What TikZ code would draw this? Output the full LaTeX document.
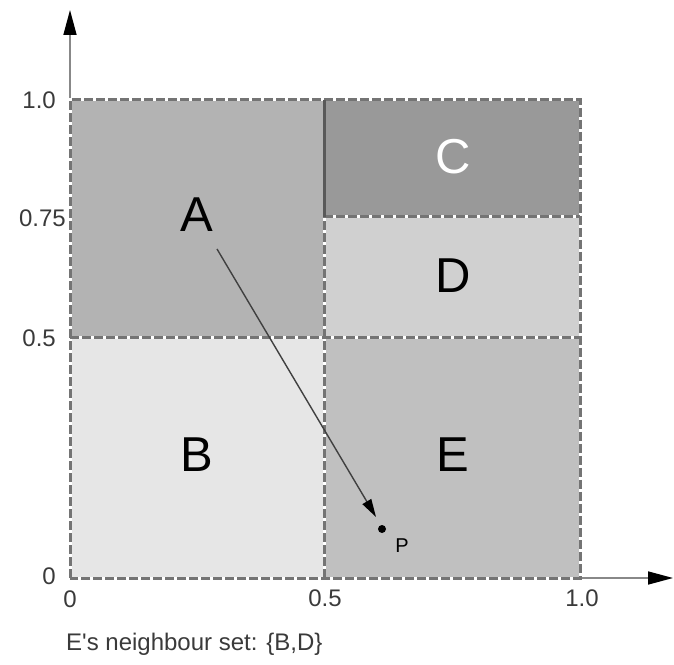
\documentclass[tikz,border=0pt]{standalone}
\usepackage{fontspec}
\setmainfont{Liberation Sans}
\usetikzlibrary{arrows.meta}
\definecolor{colA}{HTML}{B3B3B3}
\definecolor{colB}{HTML}{E6E6E6}
\definecolor{colC}{HTML}{999999}
\definecolor{colD}{HTML}{D0D0D0}
\definecolor{colE}{HTML}{C0C0C0}
\definecolor{bordergray}{HTML}{747474}
\definecolor{axisgray}{HTML}{888888}
\definecolor{ticktext}{HTML}{3A3A3A}
\tikzset{
  regionlabel/.style={font=\fontsize{49}{49}\selectfont, inner sep=0pt},
  ticklabel/.style={font=\fontsize{24}{24}\selectfont, text=ticktext, inner sep=0pt},
  borderunder/.style={draw=white, line width=3pt},
  borderline/.style={draw=bordergray, line width=3pt, dash pattern=on 9pt off 3pt},
  axisline/.style={draw=axisgray, line width=1.6pt, -{Triangle[length=25pt,width=13pt,color=black]}},
}
\begin{document}
\begin{tikzpicture}[x=1pt,y=1pt]
\useasboundingbox (0,0) rectangle (674,664);
% key coordinates
\coordinate (O) at (70,86);
\coordinate (xh) at (324,86);
\coordinate (x1) at (580,86);
\coordinate (y1) at (70,564);
\coordinate (yh) at (70,326);
\coordinate (mid) at (324,326);
\coordinate (cd) at (324,447);
\coordinate (cdr) at (580,447);
\coordinate (midr) at (580,326);
\coordinate (top) at (324,564);
\coordinate (tr) at (580,564);
% regions
\fill[colA] (yh) rectangle (top);
\fill[colB] (O) rectangle (mid);
\fill[colC] (cd) rectangle (tr);
\fill[colD] (mid) rectangle (cdr);
\fill[colE] (xh) rectangle (midr);
% axes
\coordinate (ytip) at (70,654);
\coordinate (xtip) at (673,86);
\draw[axisline] (O) -- (ytip);
\draw[axisline] (O) -- (xtip);
% borders
\foreach \s in {borderunder,borderline}{
  \draw[\s] (O) rectangle (tr);
  \draw[\s] (yh) -- (midr);
  \draw[\s] (xh) -- (cd);
  \draw[\s] (cd) -- (cdr);
}
\draw[draw=black!65, line width=3pt] (cd) -- (top);
% region labels
\node[regionlabel] (A) at (197,449) {A};
\node[regionlabel] (B) at (197,209) {B};
\node[regionlabel, text=white] (C) at (453,507) {C};
\node[regionlabel] (D) at (453,388) {D};
\node[regionlabel] (E) at (453,209) {E};
% point P and arrow
\coordinate (Pdot) at (382,135);
\fill[black] (Pdot) circle (4pt);
\node[font=\fontsize{20}{20}\selectfont, inner sep=0pt] (Plabel) at (402,118) {P};
\coordinate (astart) at (217,415);
\coordinate (aend) at (376,147);
\draw[draw=black!75, line width=1.4pt, -{Triangle[length=18pt,width=10pt,color=black]}] (astart) -- (aend);
% tick labels
\node[ticklabel, anchor=east] (t10) at (56,564) {1.0};
\node[ticklabel, anchor=east] (t075) at (66,446) {0.75};
\node[ticklabel, anchor=east] (t05) at (56,326) {0.5};
\node[ticklabel, anchor=east] (t0) at (56,88) {0};
\node[ticklabel] (x0) at (70,65) {0};
\node[ticklabel] (x05) at (325,66) {0.5};
\node[ticklabel] (x10) at (582,66) {1.0};
% caption
\node[ticklabel, anchor=west] (cap) at (66,20) {E\textquotesingle s neighbour set: \{B,D\}};
\end{tikzpicture}
\end{document}
